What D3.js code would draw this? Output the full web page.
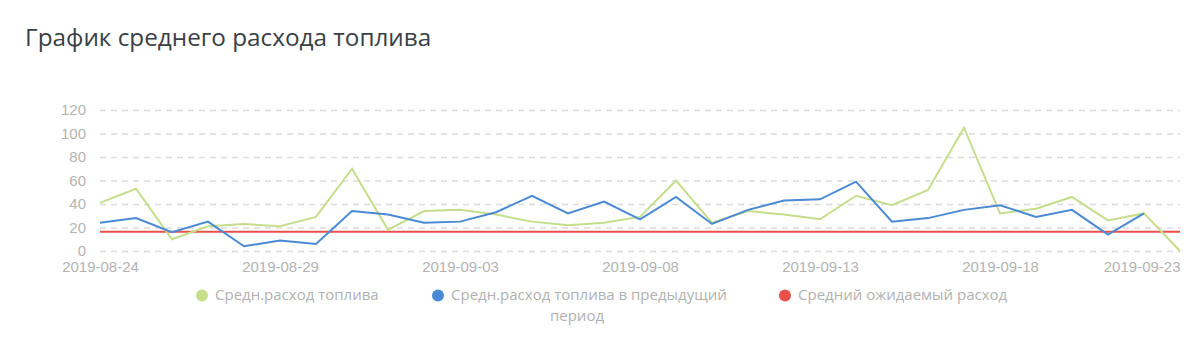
<!DOCTYPE html>
<html>
<head>
<meta charset="utf-8">
<script src="https://cdn.jsdelivr.net/npm/d3@7"></script>
<style>
  html, body { margin: 0; padding: 0; background: #fff; }
  svg { display: block; }
</style>
</head>
<body>
<svg id="chart" width="1200" height="346"></svg>
<script>
// Daily average fuel consumption, 2019-08-24 .. 2019-09-23
const dates = d3.timeDays(new Date(2019, 7, 24), new Date(2019, 8, 24));
const currentValues = [41, 53, 10, 21, 23, 21, 29, 70, 18, 34, 35, 31, 25, 22, 24, 29, 60, 24, 34, 31, 27, 47, 39, 52, 105, 32, 36, 46, 26, 32, 0];
const previousValues = [24, 28, 16, 25, 4, 9, 6, 34, 31, 24, 25, 33, 47, 32, 42, 27, 46, 23, 35, 43, 44, 59, 25, 28, 35, 39, 29, 35, 14, 32];
const expectedValue = 16.4;
const yTicks = [0, 20, 40, 60, 80, 100, 120];
const xTickLabels = ["2019-08-24", "2019-08-29", "2019-09-03", "2019-09-08", "2019-09-13", "2019-09-18", "2019-09-23"];
const seriesNames = ["Средн.расход топлива", "Средн.расход топлива в предыдущий период", "Средний ожидаемый расход"];
const seriesColors = ["#c6de8b", "#4a8ad4", "#e8504a"];

const svg = d3.select("#chart");
const parse = d3.timeParse("%Y-%m-%d");
const fmt = d3.timeFormat("%Y-%m-%d");

const x = d3.scaleTime()
  .domain([dates[0], dates[dates.length - 1]])
  .range([100, 1180]);
const y = d3.scaleLinear().domain([0, 120]).range([251, 110]);

// Title
svg.append("text")
  .attr("x", 25).attr("y", 46)
  .attr("font-family", "'Open Sans', sans-serif")
  .attr("font-size", 24.3)
  .attr("fill", "#3a3f45")
  .text("График среднего расхода топлива");

// Y axis with dashed grid
const yAxis = svg.append("g")
  .attr("transform", "translate(100,0)")
  .call(d3.axisLeft(y).tickValues(yTicks).tickSize(-1080).tickPadding(14))
  .call(g => g.select(".domain").remove());
yAxis.selectAll(".tick line")
  .attr("stroke", "#dcdcdc")
  .attr("stroke-width", 1.5)
  .attr("stroke-dasharray", "6,5");
yAxis.selectAll(".tick text")
  .attr("font-family", "'Liberation Sans', Arial, sans-serif")
  .attr("font-size", 15)
  .attr("fill", "#b4b4b4");

// X axis labels
const xAxis = svg.append("g")
  .attr("transform", "translate(0,251)")
  .call(d3.axisBottom(x).tickValues(xTickLabels.map(parse)).tickFormat(fmt).tickSize(0).tickPadding(10))
  .call(g => g.select(".domain").remove());
xAxis.selectAll(".tick text")
  .attr("font-family", "'Liberation Sans', Arial, sans-serif")
  .attr("font-size", 15)
  .attr("fill", "#b4b4b4")
  .attr("text-anchor", (d, i) => i === xTickLabels.length - 1 ? "end" : "middle");

// Series lines
const line = d3.line().x(d => x(d[0])).y(d => y(d[1]));
const currentData = currentValues.map((v, i) => [dates[i], v]);
const previousData = previousValues.map((v, i) => [dates[i], v]);
const expectedData = [[dates[0], expectedValue], [dates[dates.length - 1], expectedValue]];

svg.append("path").datum(expectedData)
  .attr("d", line).attr("fill", "none")
  .attr("stroke", seriesColors[2]).attr("stroke-width", 1.8);
svg.append("path").datum(currentData)
  .attr("d", line).attr("fill", "none")
  .attr("stroke", seriesColors[0]).attr("stroke-width", 2)
  .attr("stroke-linejoin", "miter");
svg.append("path").datum(previousData)
  .attr("d", line).attr("fill", "none")
  .attr("stroke", seriesColors[1]).attr("stroke-width", 2)
  .attr("stroke-linejoin", "miter");

// Legend (the long second entry wraps onto a centred second line)
const legendFont = "'Open Sans', sans-serif";
const legendItems = [
  { cx: 202, tx: 215, lines: [seriesNames[0]] },
  { cx: 438, tx: 451, lines: ["Средн.расход топлива в предыдущий", "период"] },
  { cx: 785, tx: 798, lines: [seriesNames[2]] }
];
const lg = svg.append("g");
legendItems.forEach((item, i) => {
  lg.append("circle")
    .attr("cx", item.cx).attr("cy", 295.5).attr("r", 6)
    .attr("fill", seriesColors[i]);
  const t = lg.append("text")
    .attr("x", item.tx).attr("y", 300)
    .attr("font-family", legendFont).attr("font-size", 15)
    .attr("fill", "#b2b2b2");
  t.append("tspan").text(item.lines[0]);
  if (item.lines[1]) {
    t.append("tspan")
      .attr("x", 577).attr("dy", 21)
      .attr("text-anchor", "middle")
      .text(item.lines[1]);
  }
});
</script>
</body>
</html>
